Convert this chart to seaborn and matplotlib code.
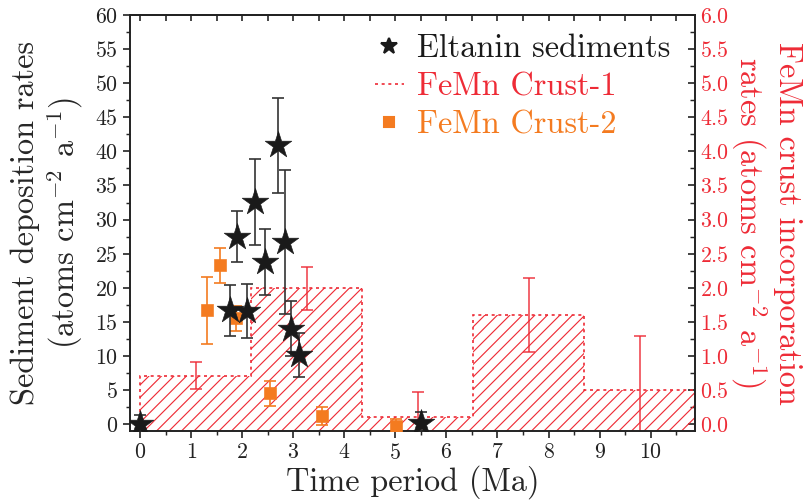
import numpy as np
import matplotlib
matplotlib.use("Agg")
import matplotlib.pyplot as plt
import seaborn as sns
from matplotlib.ticker import MultipleLocator
from matplotlib.lines import Line2D

# ---------------- data ----------------
# Eltanin sediments (left axis)
elt_age = [0.0, 1.75, 1.90, 2.10, 2.25, 2.44, 2.70, 2.83, 2.96, 3.11, 5.50]
elt_rate = [0.0, 16.7, 27.5, 16.6, 32.6, 23.8, 40.9, 26.7, 14.0, 10.1, 0.2]
elt_err = [1.3, 3.7, 3.7, 4.0, 6.3, 4.8, 7.0, 10.6, 4.0, 3.2, 1.6]

# FeMn Crust-1 (right axis), time bins
crust1_edges = [0.0, 2.17, 4.35, 6.52, 8.70, 10.87]
crust1_rate = [0.71, 1.99, 0.10, 1.60, 0.50]
crust1_err = [0.20, 0.31, 0.37, 0.54, 0.80]

# FeMn Crust-2 (left axis)
crust2_age = [1.30, 1.57, 1.88, 2.55, 3.57, 5.01]
crust2_rate = [16.7, 23.3, 15.5, 4.5, 1.2, -0.2]
crust2_err = [4.9, 2.6, 1.9, 1.9, 1.35, 1.0]

legend_labels = ["Eltanin sediments", "FeMn Crust-1", "FeMn Crust-2"]

BLACK = "#1a1a1a"
RED = "#ee2b36"
ORANGE = "#f47b20"

# ---------------- style ----------------
sns.set_style("ticks")
plt.rcParams["font.family"] = ["cmr10"]
plt.rcParams["mathtext.fontset"] = "cm"
plt.rcParams["axes.formatter.use_mathtext"] = True
plt.rcParams["axes.unicode_minus"] = False
plt.rcParams["hatch.linewidth"] = 0.55
plt.rcParams["hatch.color"] = RED
plt.rcParams["axes.linewidth"] = 0.8
plt.rcParams["axes.edgecolor"] = "#222222"

DPI = 150
fig = plt.figure(figsize=(807 / DPI, 500 / DPI), dpi=DPI)
ax = fig.add_axes([130 / 807, 69 / 500, 565 / 807, 416 / 500])
ax2 = ax.twinx()
ax.set_zorder(ax2.get_zorder() + 1)
ax.patch.set_visible(False)

# ---------------- FeMn Crust-1 (hatched steps, right axis) ----------------
ax2.set_ylim(-0.1, 6.0)
centers = 0.5 * (np.array(crust1_edges[:-1]) + np.array(crust1_edges[1:]))
ax2.stairs(crust1_rate, crust1_edges, baseline=-1.0, fill=True,
           facecolor="none", edgecolor=RED, hatch="////", linewidth=0)
step = ax2.stairs(crust1_rate, crust1_edges, baseline=-1.0, fill=False,
                  edgecolor=RED, linestyle=(0, (1.8, 2.2)), linewidth=0.8,
                  label=legend_labels[1])
ax2.errorbar(centers, crust1_rate, yerr=crust1_err, fmt="none", ecolor=RED,
             elinewidth=0.8, capsize=3.0, capthick=0.8, alpha=0.85)

# ---------------- left-axis series ----------------
ax.errorbar(crust2_age, crust2_rate, yerr=crust2_err, fmt="none", ecolor=ORANGE,
            elinewidth=0.8, capsize=3.0, capthick=0.8, zorder=2)
sns.scatterplot(x=crust2_age, y=crust2_rate, marker="s", s=30, color=ORANGE,
                edgecolor=ORANGE, linewidth=0.3, ax=ax, zorder=3, legend=False)

ax.errorbar(elt_age, elt_rate, yerr=elt_err, fmt="none", ecolor="#333333",
            elinewidth=0.8, capsize=3.0, capthick=0.8, zorder=4)
sns.scatterplot(x=elt_age, y=elt_rate, marker="*", s=180, color=BLACK,
                edgecolor=BLACK, linewidth=0.3, ax=ax, zorder=5, legend=False)

# ---------------- axes ----------------
ax.set_xlim(-0.2, 10.87)
ax.set_ylim(-1, 60)
ax.xaxis.set_major_locator(MultipleLocator(1))
ax.xaxis.set_minor_locator(MultipleLocator(0.5))
ax.yaxis.set_major_locator(MultipleLocator(5))
ax.yaxis.set_minor_locator(MultipleLocator(2.5))
ax.tick_params(axis="both", which="major", direction="out", length=3.5,
               width=0.8, labelsize=10.5, pad=2.2, colors="#222222")
ax.tick_params(axis="both", which="minor", direction="out", length=2.0, width=0.7)
ax.tick_params(axis="y", right=False)
ax.tick_params(axis="x", top=False)

sec = ax.secondary_xaxis("top")
sec.xaxis.set_major_locator(MultipleLocator(1))
sec.xaxis.set_minor_locator(MultipleLocator(0.5))
sec.tick_params(which="both", direction="in", labeltop=False, length=3.0, width=0.8)
sec.spines["top"].set_linewidth(0.8)

ax2.yaxis.set_major_locator(MultipleLocator(0.5))
ax2.yaxis.set_minor_locator(MultipleLocator(0.25))
ax2.tick_params(axis="y", which="major", direction="in", length=3.5, width=0.8,
                labelsize=10.5, pad=2.4, labelcolor=RED, color="#222222")
ax2.tick_params(axis="y", which="minor", direction="in", length=2.2, width=0.7)

ax.set_xlabel("Time period (Ma)", fontsize=15.5, labelpad=1)
ax.set_ylabel("Sediment deposition rates\n(atoms cm$^{-2}$ a$^{-1}$)",
              fontsize=15.5, labelpad=5, linespacing=1.15)
ax2.set_ylabel("FeMn crust incorporation\nrates (atoms cm$^{-2}$ a$^{-1}$)",
               fontsize=15.5, color=RED, rotation=270, labelpad=35, linespacing=1.12)

# ---------------- legend ----------------
h_star = Line2D([], [], marker="*", linestyle="none", color=BLACK, markersize=8)
h_sq = Line2D([], [], marker="s", linestyle="none", color=ORANGE, markersize=4.5)
leg = ax.legend([h_star, step, h_sq], legend_labels, loc="upper right",
                bbox_to_anchor=(0.99, 1.0), frameon=False, fontsize=15.5,
                handlelength=0.9, handletextpad=0.4, labelspacing=0.28,
                borderaxespad=0.2)
for t, c in zip(leg.get_texts(), [BLACK, RED, ORANGE]):
    t.set_color(c)

fig.savefig("out.png", dpi=DPI)
